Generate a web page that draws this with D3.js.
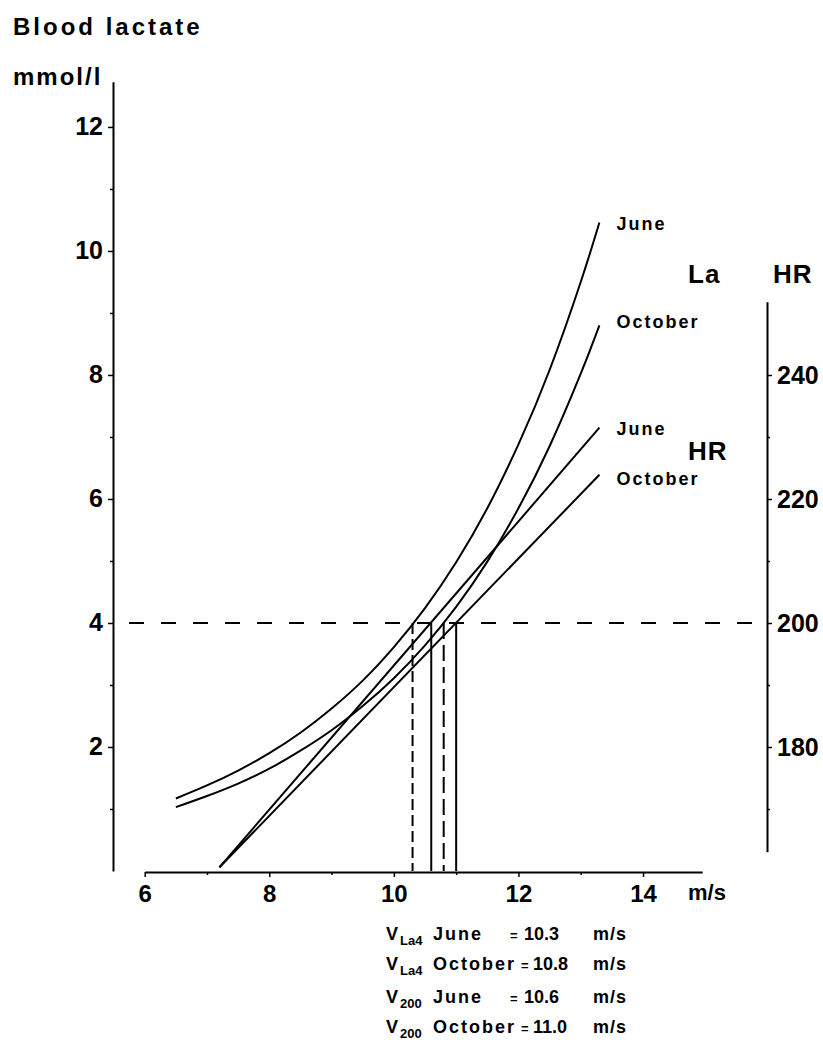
<!DOCTYPE html>
<html>
<head>
<meta charset="utf-8">
<script src="https://cdn.jsdelivr.net/npm/d3@7"></script>
<style>
  body { margin: 0; background: #fff; }
  svg text { font-family: "Liberation Sans", Arial, Helvetica, sans-serif; font-weight: bold; fill: #000; }
</style>
</head>
<body>
<div id="chart"></div>
<script>
// running speed (m/s) where the lactate curves were read
var speeds = [6.5, 7, 7.5, 8, 8.5, 9, 9.5, 10, 10.5, 11, 11.5, 12, 12.5, 13, 13.3];
var lactateJune = [1.17, 1.38, 1.62, 1.9, 2.23, 2.62, 3.07, 3.61, 4.24, 4.98, 5.85, 6.88, 8.08, 9.5, 10.46];
var lactateOctober = [1.03, 1.21, 1.41, 1.65, 1.94, 2.27, 2.66, 3.11, 3.64, 4.26, 4.99, 5.85, 6.85, 8.02, 8.8];

// heart rate lines (start and end)
var hrSpeeds = [7.2, 13.3];
var hrJune = [160.6, 231.5];
var hrOctober = [160.6, 223.9];

// threshold speeds: V at 4 mmol/l lactate and V at HR 200
var thresholdSpeeds = [10.3, 10.8, 10.6, 11.0];
var thresholdNames = ['La4', 'La4', '200', '200'];
var thresholdMonths = ['June', 'October', 'June', 'October'];

var speedTicks = [6, 7, 8, 9, 10, 11, 12, 13, 14];
var lactateTicks = [1, 2, 3, 4, 5, 6, 7, 8, 9, 10, 11, 12];
var hrTicks = [170, 180, 190, 200, 210, 220, 230, 240];

var width = 823,
    height = 1049;

var svg = d3.select('#chart').append('svg')
    .attr('width', width)
    .attr('height', height)
    .style('background', '#fff');

var x = d3.scaleLinear().domain([6, 14.95]).range([144.7, 702.2]);
var y = d3.scaleLinear().domain([0, 12.73]).range([871, 81.7]);
// heart rate shares the lactate grid: 200 beats sits on 4 mmol/l
var hrFull = d3.scaleLinear().domain([160, 280]).range([871, 127]);
var yHR = d3.scaleLinear().domain([163.1, 251.8]).range([hrFull(163.1), hrFull(251.8)]);

function styleAxis(g, size) {
    g.select('.domain').attr('stroke-width', 2);
    g.selectAll('.tick line').attr('stroke-width', 1.5);
    g.selectAll('.tick text').style('font-size', size + 'px');
}

// left axis (lactate)
var gy = svg.append('g')
    .attr('transform', 'translate(113,0)')
    .call(d3.axisLeft(y)
        .tickValues(lactateTicks)
        .tickSize(5)
        .tickSizeOuter(0)
        .tickPadding(5)
        .tickFormat(function(d) { return d % 2 === 0 ? d : ''; }));
styleAxis(gy, 25);
gy.selectAll('.tick').filter(function(d) { return d % 2 !== 0; })
    .select('line').attr('x2', -3);

// bottom axis (speed)
var gx = svg.append('g')
    .attr('transform', 'translate(0,872)')
    .call(d3.axisBottom(x)
        .tickValues(speedTicks)
        .tickSize(5)
        .tickSizeOuter(0)
        .tickPadding(8)
        .tickFormat(function(d) { return d % 2 === 0 ? d : ''; }));
styleAxis(gx, 24);
gx.selectAll('.tick').filter(function(d) { return d % 2 !== 0; })
    .select('line').attr('y2', 3);

// right axis (heart rate)
var gr = svg.append('g')
    .attr('transform', 'translate(767,0)')
    .call(d3.axisRight(yHR)
        .tickValues(hrTicks)
        .tickSize(5)
        .tickSizeOuter(0)
        .tickPadding(5)
        .tickFormat(function(d) { return d % 20 === 0 ? d : ''; }));
styleAxis(gr, 25);
gr.selectAll('.tick').filter(function(d) { return d % 20 !== 0; })
    .select('line').attr('x2', 3);

// 4 mmol/l = 200 beats reference line
svg.append('line')
    .attr('x1', 113).attr('x2', 767)
    .attr('y1', y(4)).attr('y2', y(4))
    .attr('stroke', '#000')
    .attr('stroke-width', 2)
    .attr('stroke-dasharray', '15,17')
    .attr('stroke-dashoffset', 16);

// drop lines to the speed axis
var dropDash = ['11,5', '16,6', null, null];
svg.selectAll('.drop')
    .data(thresholdSpeeds)
    .enter().append('line')
    .attr('class', 'drop')
    .attr('x1', function(d) { return x(d); })
    .attr('x2', function(d) { return x(d); })
    .attr('y1', y(4))
    .attr('y2', y(0))
    .attr('stroke', '#000')
    .attr('stroke-width', 2)
    .attr('stroke-dasharray', function(d, i) { return dropDash[i]; });

// lactate curves
var laLine = d3.line()
    .x(function(d, i) { return x(speeds[i]); })
    .y(function(d) { return y(d); })
    .curve(d3.curveNatural);

var hrLine = d3.line()
    .x(function(d, i) { return x(hrSpeeds[i]); })
    .y(function(d) { return hrFull(d); });

[lactateJune, lactateOctober].forEach(function(s) {
    svg.append('path')
        .attr('d', laLine(s))
        .attr('fill', 'none')
        .attr('stroke', '#000')
        .attr('stroke-width', 2);
});

[hrJune, hrOctober].forEach(function(s) {
    svg.append('path')
        .attr('d', hrLine(s))
        .attr('fill', 'none')
        .attr('stroke', '#000')
        .attr('stroke-width', 2);
});

// month labels at the curve ends
var ends = [
    { name: 'June', y: y(lactateJune[lactateJune.length - 1]), dy: 8 },
    { name: 'October', y: y(lactateOctober[lactateOctober.length - 1]), dy: 3 },
    { name: 'June', y: hrFull(hrJune[1]), dy: 7 },
    { name: 'October', y: hrFull(hrOctober[1]), dy: 10 }
];
svg.selectAll('.endLabel')
    .data(ends)
    .enter().append('text')
    .attr('class', 'endLabel')
    .attr('x', x(13.3) + 17)
    .attr('y', function(d) { return d.y + d.dy; })
    .style('font-size', '18px')
    .style('letter-spacing', '2px')
    .text(function(d) { return d.name; });

// titles
svg.append('text').attr('x', 13).attr('y', 35)
    .style('font-size', '24px').style('letter-spacing', '3px')
    .text('Blood lactate');
svg.append('text').attr('x', 13).attr('y', 85)
    .style('font-size', '24px').style('letter-spacing', '2px')
    .text('mmol/l');
svg.append('text').attr('x', 688).attr('y', 283)
    .style('font-size', '26px').style('letter-spacing', '1px')
    .text('La');
svg.append('text').attr('x', 773).attr('y', 283)
    .style('font-size', '26px').style('letter-spacing', '1px')
    .text('HR');
svg.append('text').attr('x', 688).attr('y', 460)
    .style('font-size', '26px').style('letter-spacing', '1px')
    .text('HR');
svg.append('text').attr('x', 688).attr('y', 900)
    .style('font-size', '22px')
    .text('m/s');

// summary of threshold speeds
var rowY = [940, 970, 1003, 1033];
var rows = svg.selectAll('.row')
    .data(thresholdSpeeds)
    .enter().append('g')
    .attr('class', 'row');

rows.append('text')
    .attr('y', function(d, i) { return rowY[i]; })
    .style('font-size', '18px')
    .each(function(d, i) {
        var t = d3.select(this);
        t.append('tspan').attr('x', 386).text('V');
        t.append('tspan').attr('x', 400).attr('dy', 5)
            .style('font-size', '13px').text(thresholdNames[i]);
        t.append('tspan').attr('x', 433).attr('dy', -5)
            .style('letter-spacing', '2px').text(thresholdMonths[i]);
    });

rows.append('text')
    .attr('x', function(d, i) { return thresholdMonths[i] === 'June' ? 510 : 521; })
    .attr('y', function(d, i) { return rowY[i]; })
    .style('font-size', '13px')
    .text('=');

rows.append('text')
    .attr('x', function(d, i) { return thresholdMonths[i] === 'June' ? 524 : 533; })
    .attr('y', function(d, i) { return rowY[i]; })
    .style('font-size', '18px')
    .text(function(d) { return d.toFixed(1); });

rows.append('text')
    .attr('x', 593)
    .attr('y', function(d, i) { return rowY[i]; })
    .style('font-size', '18px')
    .style('letter-spacing', '1px')
    .text('m/s');
</script>
</body>
</html>
